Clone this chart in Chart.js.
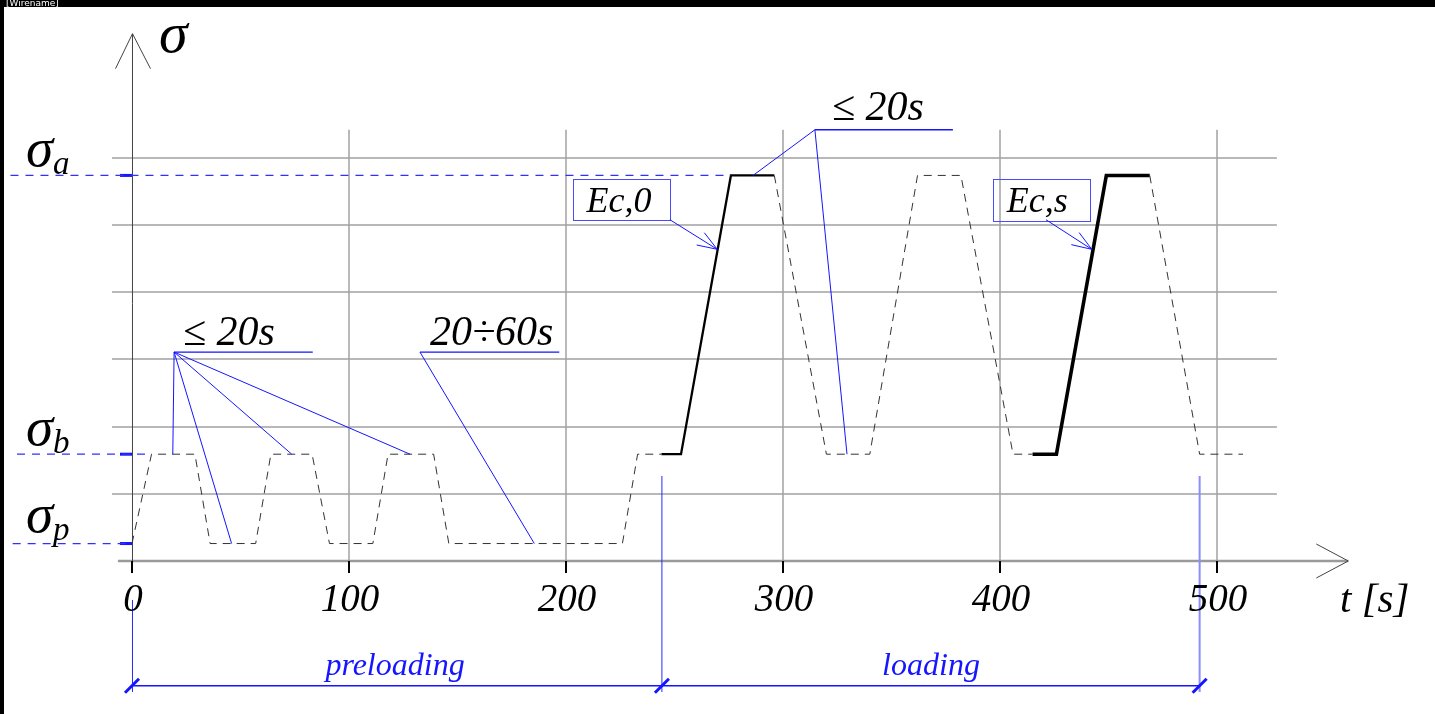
<!DOCTYPE html>
<html>
<head>
<meta charset="utf-8">
<script src="https://cdn.jsdelivr.net/npm/chart.js@4.4.0/dist/chart.umd.min.js"></script>
<style>
  html, body { margin: 0; padding: 0; background: #fff; }
  canvas { display: block; }
</style>
</head>
<body>
<canvas id="c" width="1435" height="714" style="width:1435px;height:714px"></canvas>
<script>
// ---------- data ----------
const SIGMA_P = 0.26;
const SIGMA_B = 1.59;
const SIGMA_A = 5.74;

const T_TICKS = [0, 100, 200, 300, 400, 500];
const T_TICK_LABELS = ['0', '100', '200', '300', '400', '500'];
const SIGMA_GRID = [1, 2, 3, 4, 5, 6];

// stress levels on the vertical axis
const LEVEL_SUBS = ['a', 'b', 'p'];
const LEVEL_VALUES = [SIGMA_A, SIGMA_B, SIGMA_P];
const LEVEL_LINE_START = [-56, -53, -55];
const LEVEL_LINE_END = [276, 8.5, 0];

// load path pieces (t [s], sigma)
const PRE_T = [0, 9, 29, 36, 57, 64, 83, 91, 111, 118, 139, 146, 226, 233, 244];
const PRE_S = [SIGMA_P, SIGMA_B, SIGMA_B, SIGMA_P, SIGMA_P, SIGMA_B, SIGMA_B, SIGMA_P, SIGMA_P, SIGMA_B, SIGMA_B, SIGMA_P, SIGMA_P, SIGMA_B, SIGMA_B];
const LOAD1_T = [244, 253, 276, 296];
const LOAD1_S = [SIGMA_B, SIGMA_B, SIGMA_A, SIGMA_A];
const CYCLE_T = [296, 320, 340, 362, 382, 406, 415];
const CYCLE_S = [SIGMA_A, SIGMA_B, SIGMA_B, SIGMA_A, SIGMA_A, SIGMA_B, SIGMA_B];
const LOAD2_T = [415, 426, 449, 469];
const LOAD2_S = [SIGMA_B, SIGMA_B, SIGMA_A, SIGMA_A];
const UNLOAD_T = [469, 492, 512];
const UNLOAD_S = [SIGMA_A, SIGMA_B, SIGMA_B];

// duration notes
const NOTE_TEXT = ['\u2264 20s', '20\u00F760s', '\u2264 20s'];
const NOTE_TEXT_T = [23.5, 137.3, 322.6];
const NOTE_TEXT_S = [3.22, 3.22, 6.56];
const NOTE_LINE_T0 = [19.4, 132.7, 314.7];
const NOTE_LINE_T1 = [83.3, 196.9, 378.3];
const NOTE_LINE_S = [3.11, 3.11, 6.42];
const NOTE_TARGET_T = [[18.8, 45.9, 73.6, 128.1], [185.4], [286.2, 329.5]];
const NOTE_TARGET_S = [[SIGMA_B, SIGMA_P, SIGMA_B, SIGMA_B], [SIGMA_P], [SIGMA_A, SIGMA_B]];

// modulus boxes
const BOX_TEXT = ['Ec,0', 'Ec,s'];
const BOX_T0 = [203.2, 396.9];
const BOX_T1 = [247.9, 441.5];
const BOX_S0 = [5.08, 5.07];
const BOX_S1 = [5.69, 5.69];
const BOX_TEXT_T = [209.5, 403.1];
const BOX_TEXT_S = [5.20, 5.20];
const BOX_ARROW_FROM_T = [247.9, 421.2];
const BOX_ARROW_FROM_S = [5.08, 5.08];
const BOX_ARROW_TO_T = [269.7, 442.3];
const BOX_ARROW_TO_S = [4.64, 4.64];

// phases
const PHASE_NAMES = ['preloading', 'loading'];
const PHASE_BOUNDS = [0, 244.2, 492];
const PHASE_LABEL_T = [121.2, 368.2];

// ---------- helpers ----------
function pts(ts, ss) { return ts.map((t, i) => ({ x: t, y: ss[i] })); }

const BLUE = '#1515ff';
const SERIF = '"Liberation Serif", "Times New Roman", serif';

const datasets = [];
LEVEL_VALUES.forEach((v, i) => {
  datasets.push({
    data: pts([LEVEL_LINE_START[i], LEVEL_LINE_END[i]], [v, v]),
    borderColor: '#3030ff', borderWidth: 1.2, borderDash: [8, 7]
  });
});
datasets.push({ data: pts(PRE_T, PRE_S), borderColor: '#333', borderWidth: 1, borderDash: [8, 6] });
datasets.push({ data: pts(CYCLE_T, CYCLE_S), borderColor: '#333', borderWidth: 1, borderDash: [8, 6] });
datasets.push({ data: pts(UNLOAD_T, UNLOAD_S), borderColor: '#333', borderWidth: 1, borderDash: [8, 6] });
datasets.push({ data: pts(LOAD1_T, LOAD1_S), borderColor: '#000', borderWidth: 2.3 });
datasets.push({ data: pts(LOAD2_T, LOAD2_S), borderColor: '#000', borderWidth: 3.6 });
datasets.forEach(d => { d.pointRadius = 0; d.fill = false; d.tension = 0; d.clip = false; d.borderCapStyle = 'butt'; });

function line(ctx, x1, y1, x2, y2) { ctx.beginPath(); ctx.moveTo(x1, y1); ctx.lineTo(x2, y2); ctx.stroke(); }

const decor = {
  id: 'decor',
  beforeDraw(chart) {
    const ctx = chart.ctx;
    ctx.save();
    ctx.fillStyle = '#fff';
    ctx.fillRect(0, 0, chart.width, chart.height);
    ctx.fillStyle = '#000';
    ctx.fillRect(0, 0, chart.width, 7);
    ctx.fillRect(0, 0, 4, chart.height);
    ctx.beginPath(); ctx.rect(0, 0, 200, 7); ctx.clip();
    ctx.fillStyle = '#fff';
    ctx.font = '9px "DejaVu Sans"';
    ctx.fillText('[Wirename]', 6, 6);
    ctx.restore();
  },
  beforeDatasetsDraw(chart) {
    const ctx = chart.ctx, xs = chart.scales.x, ys = chart.scales.y;
    const X = v => xs.getPixelForValue(v), Y = v => ys.getPixelForValue(v);
    ctx.save();
    // horizontal grid
    ctx.strokeStyle = '#b8b8b8'; ctx.lineWidth = 2;
    SIGMA_GRID.forEach(s => { const y = Math.round(Y(s)); line(ctx, X(-9.2), y, X(527.6), y); });
    // vertical grid
    ctx.strokeStyle = '#a2a2a2'; ctx.lineWidth = 1.5;
    T_TICKS.forEach(t => { if (t === 0) return; const x = Math.round(X(t)); line(ctx, x, Y(6.42), x, Y(0)); });
    // x axis
    const y0 = Y(0);
    ctx.strokeStyle = '#9a9a9a'; ctx.lineWidth = 2.5;
    line(ctx, X(-6.5), y0, X(560.5), y0);
    ctx.strokeStyle = '#444'; ctx.lineWidth = 1;
    const xt = X(560.5);
    line(ctx, xt - 32, y0 - 17, xt, y0); line(ctx, xt - 32, y0 + 17, xt, y0);
    // y axis
    const x0 = X(0) + 0.5;
    ctx.strokeStyle = '#444'; ctx.lineWidth = 1;
    line(ctx, x0, Y(7.85), x0, Y(-0.18));
    const yt = Y(7.85);
    line(ctx, x0 - 17, yt + 35, x0, yt); line(ctx, x0 + 18, yt + 35, x0, yt);
    // ticks
    ctx.strokeStyle = '#000'; ctx.lineWidth = 2;
    T_TICKS.forEach(t => { const x = Math.round(X(t)); line(ctx, x, y0, x, y0 + 12); });
    // blue level markers
    ctx.strokeStyle = BLUE; ctx.lineWidth = 3;
    LEVEL_VALUES.forEach(v => line(ctx, X(0) - 12, Y(v), X(0), Y(v)));
    // phase dimension
    const yd = Y(-1.857);
    ctx.strokeStyle = '#2a2aff'; ctx.lineWidth = 1;
    line(ctx, X(0) + 0.5, Y(-0.58), X(0) + 0.5, Y(-1.95));
    line(ctx, X(PHASE_BOUNDS[1]), Y(1.265), X(PHASE_BOUNDS[1]), Y(-1.95));
    ctx.strokeStyle = '#8c8cff'; ctx.lineWidth = 2;
    line(ctx, X(PHASE_BOUNDS[2]), Y(1.265), X(PHASE_BOUNDS[2]), Y(-1.95));
    ctx.strokeStyle = BLUE; ctx.lineWidth = 1.5;
    line(ctx, X(PHASE_BOUNDS[0]), yd, X(PHASE_BOUNDS[2]), yd);
    ctx.lineWidth = 3;
    PHASE_BOUNDS.forEach(t => { const x = X(t); line(ctx, x - 7, yd + 7, x + 7, yd - 7); });
    ctx.restore();
  },
  afterDatasetsDraw(chart) {
    const ctx = chart.ctx, xs = chart.scales.x, ys = chart.scales.y;
    const X = v => xs.getPixelForValue(v), Y = v => ys.getPixelForValue(v);
    ctx.save();
    ctx.textBaseline = 'alphabetic';
    // tick labels
    ctx.fillStyle = '#000';
    ctx.font = 'italic 39px ' + SERIF;
    ctx.textAlign = 'center';
    T_TICKS.forEach((t, i) => ctx.fillText(T_TICK_LABELS[i], X(t) + 1, Y(0) + 50));
    ctx.font = 'italic 41px ' + SERIF;
    ctx.textAlign = 'left';
    ctx.fillText('t [s]', 1340, Y(0) + 51);
    // sigma title
    ctx.font = 'italic 58px ' + SERIF;
    ctx.fillText('\u03C3', 159, 52);
    // level labels
    LEVEL_VALUES.forEach((v, i) => {
      const yb = Y(v);
      ctx.font = 'italic 55px ' + SERIF;
      const offs = [-9, -9, -12][i];
      ctx.fillText('\u03C3', 26, yb + offs);
      ctx.font = 'italic 33px ' + SERIF;
      ctx.fillText(LEVEL_SUBS[i], 53, yb + [-1, -1, -4][i]);
    });
    // notes
    ctx.strokeStyle = BLUE; ctx.lineWidth = 1;
    NOTE_TEXT.forEach((txt, i) => {
      const ax = X(NOTE_LINE_T0[i]), ay = Y(NOTE_LINE_S[i]);
      ctx.lineWidth = 1.3;
      line(ctx, ax, ay, X(NOTE_LINE_T1[i]), ay);
      ctx.lineWidth = 1;
      NOTE_TARGET_T[i].forEach((tt, j) => line(ctx, ax, ay, X(tt), Y(NOTE_TARGET_S[i][j])));
      ctx.fillStyle = '#000';
      ctx.font = 'italic 42px ' + SERIF;
      ctx.fillText(txt, X(NOTE_TEXT_T[i]), Y(NOTE_TEXT_S[i]));
    });
    // boxes
    BOX_TEXT.forEach((txt, i) => {
      const bx0 = X(BOX_T0[i]), bx1 = X(BOX_T1[i]), by0 = Y(BOX_S1[i]), by1 = Y(BOX_S0[i]);
      ctx.strokeStyle = '#4a4aff'; ctx.lineWidth = 1;
      ctx.strokeRect(Math.round(bx0) + 0.5, Math.round(by0) + 0.5, Math.round(bx1 - bx0), Math.round(by1 - by0));
      ctx.fillStyle = '#000';
      ctx.font = 'italic 36px ' + SERIF;
      ctx.fillText(txt, X(BOX_TEXT_T[i]), Y(BOX_TEXT_S[i]));
      const fx = X(BOX_ARROW_FROM_T[i]), fy = Y(BOX_ARROW_FROM_S[i]);
      const tx = X(BOX_ARROW_TO_T[i]), ty = Y(BOX_ARROW_TO_S[i]);
      ctx.strokeStyle = BLUE; ctx.lineWidth = 1;
      line(ctx, fx, fy, tx, ty);
      const ang = Math.atan2(fy - ty, fx - tx);
      [-0.35, 0.35].forEach(d => line(ctx, tx, ty, tx + 21 * Math.cos(ang + d), ty + 21 * Math.sin(ang + d)));
    });
    // phase labels
    ctx.fillStyle = BLUE;
    ctx.font = 'italic 32px ' + SERIF;
    ctx.textAlign = 'center';
    PHASE_NAMES.forEach((n, i) => ctx.fillText(n, X(PHASE_LABEL_T[i]), Y(-1.70)));
    ctx.restore();
  }
};

new Chart(document.getElementById('c'), {
  type: 'line',
  data: { datasets },
  options: {
    responsive: false,
    devicePixelRatio: 1,
    animation: false,
    events: [],
    layout: { padding: { left: 10, right: 75, top: 30, bottom: 153 } },
    scales: {
      x: { type: 'linear', min: -56.22, max: 565.9, display: false },
      y: { type: 'linear', min: 0, max: 7.905, display: false }
    },
    plugins: { legend: { display: false }, tooltip: { enabled: false } }
  },
  plugins: [decor]
});
</script>
</body>
</html>
